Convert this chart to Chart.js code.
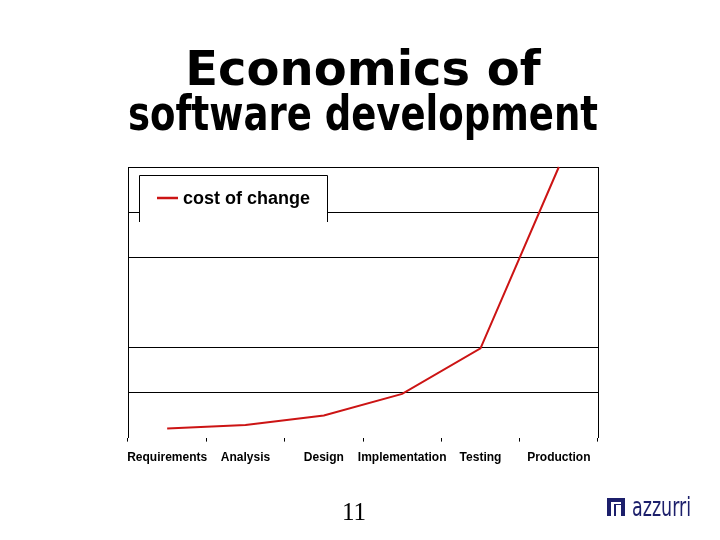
<!DOCTYPE html>
<html>
<head>
<meta charset="utf-8">
<script src="https://cdn.jsdelivr.net/npm/chart.js@4.4.0/dist/chart.umd.min.js"></script>
<style>
  html, body { margin: 0; padding: 0; background: #fff; }
  #wrap { width: 720px; height: 540px; }
</style>
</head>
<body>
<div id="wrap"><canvas id="costChart" width="720" height="540"></canvas></div>
<script>
// Phases of the project and the relative cost of a change in each
const phases = ['Requirements', 'Analysis', 'Design', 'Implementation', 'Testing', 'Production'];
const costOfChange = [0.2, 0.28, 0.49, 0.97, 1.98, 6];
const seriesName = 'cost of change';
const titleLines = ['Economics of', 'software development'];
const pageNumber = '11';

const RED = '#cc1414';
const NAVY = '#1c1f6b';

// Legend box that sits inside the plot, cut off at the bottom like the slide
const legendBox = {
    id: 'legendBox',
    beforeDatasetsDraw(chart) {
        const ctx = chart.ctx;
        const area = chart.chartArea;
        const x = area.left + 11, y = area.top + 8, w = 188, h = 47;
        ctx.save();
        ctx.fillStyle = '#fff';
        ctx.fillRect(x, y, w, h);
        ctx.strokeStyle = '#000';
        ctx.lineWidth = 1;
        ctx.beginPath();
        ctx.moveTo(x + 0.5, y + h);
        ctx.lineTo(x + 0.5, y + 0.5);
        ctx.lineTo(x + w + 0.5, y + 0.5);
        ctx.lineTo(x + w + 0.5, y + h);
        ctx.stroke();
        // sample line and label
        ctx.strokeStyle = RED;
        ctx.lineWidth = 2.5;
        ctx.beginPath();
        ctx.moveTo(x + 18, y + 23);
        ctx.lineTo(x + 39, y + 23);
        ctx.stroke();
        ctx.fillStyle = '#000';
        ctx.font = 'bold 18px "Liberation Sans", Arial, sans-serif';
        ctx.textBaseline = 'middle';
        ctx.fillText(chart.data.datasets[0].label, x + 44, y + 24);
        ctx.restore();
    }
};

// Page number and company logo at the bottom of the slide
const slideFooter = {
    id: 'slideFooter',
    afterDraw(chart) {
        const ctx = chart.ctx;
        ctx.save();
        ctx.fillStyle = '#000';
        ctx.font = '25px "Liberation Serif", "Times New Roman", serif';
        ctx.textAlign = 'center';
        ctx.textBaseline = 'alphabetic';
        ctx.fillText(pageNumber, 354, 520);

        // logo mark
        ctx.fillStyle = NAVY;
        ctx.fillRect(607, 498, 18, 18);
        ctx.fillStyle = '#fff';
        ctx.fillRect(611, 502, 3, 14);
        ctx.fillRect(616, 505, 5, 11);
        ctx.fillRect(611, 502, 10, 2);
        // logo word
        ctx.fillStyle = NAVY;
        ctx.font = '27px "DejaVu Sans Condensed", "DejaVu Sans", sans-serif';
        ctx.textAlign = 'left';
        ctx.translate(632, 516);
        ctx.scale(0.72, 1);
        ctx.fillText('azzurri', 0, 0);
        ctx.restore();
    }
};

new Chart(document.getElementById('costChart').getContext('2d'), {
    type: 'line',
    data: {
        labels: phases,
        datasets: [{
            label: seriesName,
            data: costOfChange,
            borderColor: RED,
            backgroundColor: RED,
            borderWidth: 2,
            pointRadius: 0,
            tension: 0,
            fill: false,
            clip: false
        }]
    },
    options: {
        responsive: false,
        animation: false,
        layout: {
            padding: { left: 128, right: 122, top: 0, bottom: 66 }
        },
        plugins: {
            legend: { display: false },
            tooltip: { enabled: false },
            title: {
                display: true,
                text: titleLines,
                color: '#000',
                font: { family: '"DejaVu Sans", sans-serif', size: 48, weight: 'bold', lineHeight: 0.9375 },
                padding: { top: 50, bottom: 27 }
            }
        },
        scales: {
            x: {
                offset: true,
                border: { display: false },
                grid: {
                    offset: true,
                    drawOnChartArea: false,
                    drawTicks: true,
                    tickLength: 4,
                    color: '#000'
                },
                ticks: {
                    color: '#000',
                    padding: 9,
                    maxRotation: 0,
                    autoSkip: false,
                    font: { family: '"Liberation Sans", Arial, sans-serif', size: 12, weight: 'bold' }
                }
            },
            y: {
                min: 0,
                max: 6,
                border: { display: true, color: '#000', width: 1 },
                grid: {
                    drawTicks: false,
                    color: ctx => (ctx.tick.value === 0 || ctx.tick.value === 3) ? 'rgba(0,0,0,0)' : '#000'
                },
                ticks: { display: false, stepSize: 1 }
            },
            y2: {
                position: 'right',
                min: 0,
                max: 6,
                border: { display: true, color: '#000', width: 1 },
                grid: { drawOnChartArea: false, drawTicks: false },
                ticks: { display: false }
            }
        }
    },
    plugins: [legendBox, slideFooter]
});
</script>
</body>
</html>
